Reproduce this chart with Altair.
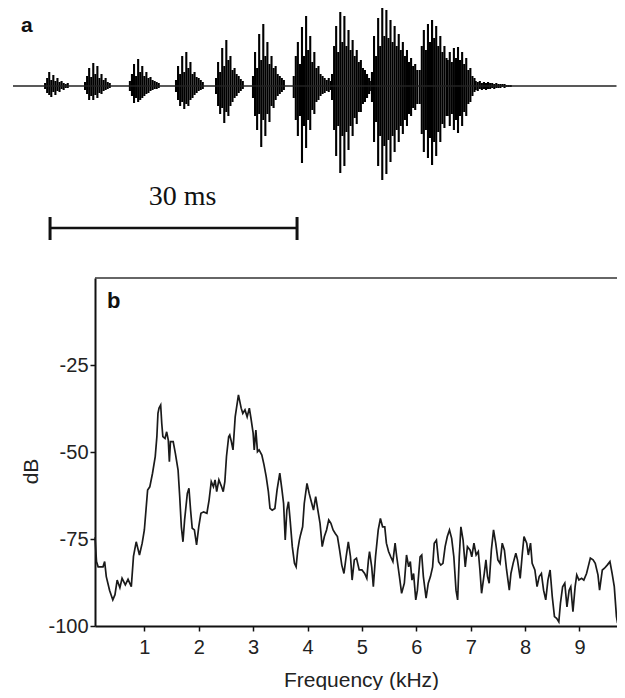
import altair as alt
import pandas as pd

# ---------------- panel b : spectrum ----------------
freq_khz = [0.093, 0.12, 0.15, 0.24, 0.27, 0.30, 0.36, 0.42, 0.46, 0.50, 0.55, 0.59, 0.65, 0.70, 0.76,
            0.80, 0.85, 0.91, 0.96, 1.00, 1.06, 1.10, 1.15, 1.20, 1.23, 1.25, 1.27, 1.30, 1.32, 1.34,
            1.38, 1.41, 1.44, 1.46, 1.48, 1.53, 1.57, 1.62, 1.65, 1.68, 1.71, 1.74, 1.79, 1.82, 1.85,
            1.88, 1.92, 1.96, 2.00, 2.04, 2.09, 2.15, 2.19, 2.23, 2.27, 2.30, 2.33, 2.37, 2.42, 2.45,
            2.48, 2.51, 2.55, 2.57, 2.60, 2.63, 2.67, 2.73, 2.78, 2.81, 2.85, 2.89, 2.93, 2.96, 3.00,
            3.02, 3.05, 3.08, 3.11, 3.16, 3.20, 3.24, 3.28, 3.31, 3.35, 3.40, 3.44, 3.49, 3.53, 3.56,
            3.59, 3.62, 3.65, 3.68, 3.72, 3.76, 3.79, 3.82, 3.85, 3.87, 3.91, 3.94, 3.99, 4.03, 4.07,
            4.11, 4.15, 4.19, 4.23, 4.27, 4.31, 4.35, 4.39, 4.43, 4.47, 4.51, 4.55, 4.59, 4.63, 4.67,
            4.71, 4.75, 4.79, 4.82, 4.86, 4.90, 4.95, 5.00, 5.05, 5.09, 5.12, 5.14, 5.18, 5.21, 5.25,
            5.30, 5.34, 5.38, 5.42, 5.45, 5.49, 5.53, 5.57, 5.61, 5.64, 5.69, 5.73, 5.78, 5.82, 5.86,
            5.89, 5.92, 5.95, 5.99, 6.02, 6.07, 6.10, 6.13, 6.18, 6.22, 6.26, 6.30, 6.33, 6.37, 6.41,
            6.45, 6.49, 6.53, 6.57, 6.61, 6.65, 6.69, 6.73, 6.76, 6.79, 6.82, 6.86, 6.90, 6.94, 6.99,
            7.02, 7.06, 7.10, 7.14, 7.17, 7.20, 7.25, 7.28, 7.31, 7.34, 7.38, 7.42, 7.46, 7.50, 7.54,
            7.58, 7.62, 7.66, 7.71, 7.74, 7.78, 7.83, 7.86, 7.91, 7.95, 7.98, 8.03, 8.06, 8.10, 8.13,
            8.18, 8.22, 8.26, 8.30, 8.34, 8.38, 8.42, 8.46, 8.50, 8.54, 8.58, 8.62, 8.65, 8.69, 8.73,
            8.77, 8.81, 8.84, 8.88, 8.92, 8.95, 8.99, 9.04, 9.08, 9.13, 9.16, 9.20, 9.25, 9.29, 9.34,
            9.37, 9.42, 9.46, 9.51, 9.56, 9.60, 9.64, 9.68, 9.70]
level_db = [-74.5, -81.5, -83.0, -83.0, -81.5, -85.8, -89.7, -92.5, -91.0, -86.8, -89.0, -86.3, -88.2, -86.6, -88.7,
            -80.0, -75.8, -79.6, -76.2, -72.4, -60.9, -60.0, -56.1, -51.3, -45.6, -38.9, -37.4, -36.5, -41.8, -45.6,
            -46.1, -44.2, -46.6, -52.8, -47.0, -47.0, -50.4, -55.2, -62.8, -71.5, -75.8, -69.5, -61.9, -60.4, -66.7,
            -71.9, -72.4, -76.7, -71.5, -67.6, -67.2, -67.6, -63.8, -58.5, -60.0, -58.0, -61.4, -58.0, -60.0, -61.4,
            -58.5, -51.3, -45.6, -45.1, -47.0, -49.4, -39.9, -33.6, -37.4, -38.9, -37.9, -39.9, -37.4, -40.3, -44.6,
            -49.4, -43.7, -49.9, -49.4, -50.9, -53.7, -57.1, -61.4, -66.2, -66.7, -66.2, -60.9, -56.1, -60.9, -64.8,
            -75.3, -66.7, -64.3, -69.5, -77.2, -82.0, -83.0, -78.2, -75.3, -73.9, -71.5, -64.8, -59.0, -61.9, -64.3,
            -66.7, -62.8, -66.7, -70.5, -77.2, -74.3, -72.4, -69.5, -70.5, -72.4, -73.4, -74.3, -78.2, -82.5, -84.9,
            -80.1, -75.8, -80.1, -86.8, -81.0, -80.5, -83.9, -83.9, -84.9, -86.3, -81.0, -78.6, -83.0, -88.7, -80.1,
            -72.4, -69.1, -71.5, -71.5, -76.2, -78.6, -80.1, -81.5, -76.2, -80.1, -85.8, -90.6, -87.7, -79.6, -83.0,
            -81.5, -86.8, -84.9, -92.5, -89.7, -80.1, -79.6, -85.8, -92.0, -87.7, -85.8, -83.0, -76.2, -75.3, -81.5,
            -82.5, -82.0, -77.2, -74.3, -72.4, -74.8, -80.1, -89.7, -92.5, -80.1, -71.5, -75.3, -83.0, -77.2, -78.2,
            -80.1, -76.2, -79.6, -78.6, -83.9, -90.6, -84.9, -81.0, -85.8, -87.7, -78.2, -72.4, -76.2, -81.0, -82.0,
            -76.2, -78.2, -83.9, -89.7, -84.9, -82.0, -79.1, -81.0, -86.3, -79.1, -74.3, -76.2, -79.6, -76.2, -82.0,
            -83.9, -88.7, -85.8, -84.9, -89.7, -92.5, -86.8, -83.9, -91.6, -97.3, -97.8, -98.8, -93.5, -88.7, -87.7,
            -94.5, -89.7, -88.7, -95.9, -88.7, -85.3, -86.8, -86.3, -86.8, -84.9, -83.0, -80.5, -81.0, -82.0, -85.3,
            -89.7, -83.9, -83.4, -82.5, -81.5, -84.9, -88.7, -97.3, -99.2]
freq_ticks = [1, 2, 3, 4, 5, 6, 7, 8, 9]
db_ticks = [-25, -50, -75, -100]

# ---------------- panel a : oscillogram ----------------
SAMPLE_MS = 0.25
pulse_onset_ms = [3.9, 8.75, 14.2, 19.8, 24.66, 29.15, 34.1, 38.75, 43.6, 49.4, 52.8, 56.2]
pulse_hi = [
    [3, 8, 14, 6, 11, 5, 8, 4, 5, 3, 2, 3],
    [4, 10, 18, 9, 23, 12, 20, 8, 12, 6, 8, 4, 3],
    [5, 12, 22, 10, 27, 14, 20, 10, 14, 8, 9, 6, 5, 4, 3],
    [6, 20, 12, 30, 14, 34, 18, 24, 12, 14, 9, 8, 6, 4],
    [8, 24, 14, 38, 20, 46, 26, 30, 16, 18, 12, 10, 7, 5],
    [10, 34, 18, 52, 26, 62, 30, 44, 22, 30, 18, 20, 12, 10, 8, 6],
    [10, 30, 44, 22, 59, 30, 70, 36, 50, 24, 34, 18, 20, 12, 10, 8, 6, 8, 5],
    [12, 40, 60, 34, 74, 44, 70, 40, 56, 36, 46, 30, 36, 24, 26, 18, 16, 12, 8, 5],
    [14, 50, 30, 68, 40, 78, 50, 76, 48, 66, 44, 60, 40, 52, 36, 44, 30, 36, 24, 28, 20, 22, 16],
    [16, 40, 56, 36, 62, 44, 66, 48, 60, 40, 50, 34, 40, 28],
    [26, 34, 24, 38, 28, 39, 26, 34, 22, 28, 16, 18, 10, 8],
    [5, 4, 5, 3, 4, 3, 4, 3, 3, 2, 3, 2, 2, 2, 2, 1, 1, 1],
]
pulse_lo = [
    [-3, -7, -9, -11, -6, -9, -5, -6, -3, -4, -2, -2],
    [-4, -8, -14, -10, -14, -9, -12, -7, -8, -5, -4, -3, -2],
    [-5, -10, -17, -12, -16, -14, -12, -10, -8, -7, -5, -4, -3, -3, -2],
    [-6, -14, -20, -16, -23, -18, -20, -14, -12, -9, -7, -5, -4, -3],
    [-8, -20, -28, -22, -37, -26, -30, -20, -16, -12, -10, -7, -5, -3],
    [-12, -30, -44, -28, -61, -34, -50, -28, -36, -20, -22, -14, -10, -8, -6, -4],
    [-12, -34, -50, -30, -77, -40, -62, -34, -44, -24, -28, -16, -14, -10, -8, -7, -5, -6, -4],
    [-14, -44, -70, -40, -87, -50, -80, -46, -64, -40, -50, -32, -38, -26, -26, -18, -16, -12, -8, -5],
    [-16, -56, -36, -80, -50, -94, -60, -88, -54, -76, -50, -66, -44, -56, -40, -48, -34, -40, -28, -30, -22, -24, -18],
    [-18, -48, -66, -44, -72, -52, -79, -56, -70, -46, -56, -38, -42, -30],
    [-30, -40, -28, -44, -34, -47, -30, -40, -26, -30, -18, -16, -10, -6],
    [-4, -5, -3, -4, -3, -4, -3, -3, -2, -3, -2, -2, -2, -1, -2, -1, -1, -1],
]
trace_start_ms, trace_end_ms = 0.0, 73.3
bar_start_ms, bar_end_ms = 4.5, 34.5
bar_label = "30 ms"

rows = []
for onset, his, los in zip(pulse_onset_ms, pulse_hi, pulse_lo):
    for i, (h, l) in enumerate(zip(his, los)):
        rows.append({"t": onset + i * SAMPLE_MS, "hi": h, "lo": l})
wave_df = pd.DataFrame(rows)
spec_df = pd.DataFrame({"f": freq_khz, "db": level_db})

W, H = 522, 348
FONT = "Liberation Sans"
xs_a = alt.Scale(domain=[9.96, 73.36], nice=False, zero=False)
ys_a = alt.Scale(domain=[-540, -192], nice=False, zero=False)

spectrum = alt.Chart(spec_df).mark_line(color="#1a1a1a", strokeWidth=1.7).encode(
    x=alt.X("f:Q", scale=alt.Scale(domain=[0.0925, 9.69], nice=False, zero=False),
            axis=alt.Axis(values=freq_ticks, title="Frequency (kHz)", titleX=266, titleY=60,
                          titleBaseline="alphabetic", titleAlign="center", labelPadding=6)),
    y=alt.Y("db:Q", scale=alt.Scale(domain=[-100, 0], nice=False, zero=False),
            axis=alt.Axis(values=db_ticks, title="dB", titleX=-64, titleY=193, titleAngle=270,
                          titleBaseline="middle", titleAlign="center", labelPadding=2,
                          labelExpr="'' + datum.value")),
)

one = pd.DataFrame({"k": [0]})
top_border = alt.Chart(one).mark_rule(color="#333", strokeWidth=1.5).encode(
    x=alt.value(0), x2=alt.value(W), y=alt.value(0))
label_b = alt.Chart(one).mark_text(font=FONT, fontSize=22, fontWeight="bold", align="left",
                                   baseline="alphabetic", color="#111").encode(
    x=alt.value(12), y=alt.value(30), text=alt.value("b"))
label_a = alt.Chart(one).mark_text(font=FONT, fontSize=21, fontWeight="bold", align="left",
                                   baseline="alphabetic", color="#111").encode(
    x=alt.value(-74), y=alt.value(-246), text=alt.value("a"))

wave = alt.Chart(wave_df).mark_rule(color="#000", strokeWidth=2.1).encode(
    x=alt.X("t:Q", scale=xs_a, axis=None),
    y=alt.Y("lo:Q", scale=ys_a, axis=None),
    y2="hi:Q",
)
base_df = pd.DataFrame({"t0": [trace_start_ms], "t1": [trace_end_ms], "amp": [0.0]})
baseline = alt.Chart(base_df).mark_rule(color="#222", strokeWidth=1.5).encode(
    x=alt.X("t0:Q", scale=xs_a, axis=None), x2="t1:Q",
    y=alt.Y("amp:Q", scale=ys_a, axis=None))

bar_df = pd.DataFrame({"t0": [bar_start_ms], "t1": [bar_end_ms], "amp": [-142.0]})
bar = alt.Chart(bar_df).mark_rule(color="#111", strokeWidth=2.5).encode(
    x=alt.X("t0:Q", scale=xs_a, axis=None), x2="t1:Q",
    y=alt.Y("amp:Q", scale=ys_a, axis=None))
ends_df = pd.DataFrame({"t": [bar_start_ms, bar_end_ms], "a0": [-131.0, -131.0], "a1": [-154.0, -154.0]})
bar_ends = alt.Chart(ends_df).mark_rule(color="#111", strokeWidth=3).encode(
    x=alt.X("t:Q", scale=xs_a, axis=None),
    y=alt.Y("a0:Q", scale=ys_a, axis=None), y2="a1:Q")
txt_df = pd.DataFrame({"t": [20.6], "amp": [-119.0], "label": [bar_label]})
bar_text = alt.Chart(txt_df).mark_text(font="Liberation Serif", fontSize=28, align="center",
                                       baseline="alphabetic", color="#111").encode(
    x=alt.X("t:Q", scale=xs_a, axis=None),
    y=alt.Y("amp:Q", scale=ys_a, axis=None),
    text="label:N")

chart = alt.layer(
    spectrum, top_border, label_b, wave, baseline, bar, bar_ends, bar_text, label_a
).resolve_scale(x="independent", y="independent").properties(
    width=W, height=H,
    padding={"left": 87, "top": 270, "right": 0, "bottom": 64},
    autosize=alt.AutoSizeParams(type="none"),
).configure_view(stroke="transparent").configure_axis(
    grid=False, labelFont=FONT, labelFontSize=20, labelColor="#222",
    titleFont=FONT, titleFontSize=21, titleFontWeight="normal", titleColor="#222",
    domainColor="#111", domainWidth=2, tickColor="#111", tickWidth=1.5, tickSize=5,
)

chart.save("out.html", embed_options={"renderer": "svg", "actions": False})
